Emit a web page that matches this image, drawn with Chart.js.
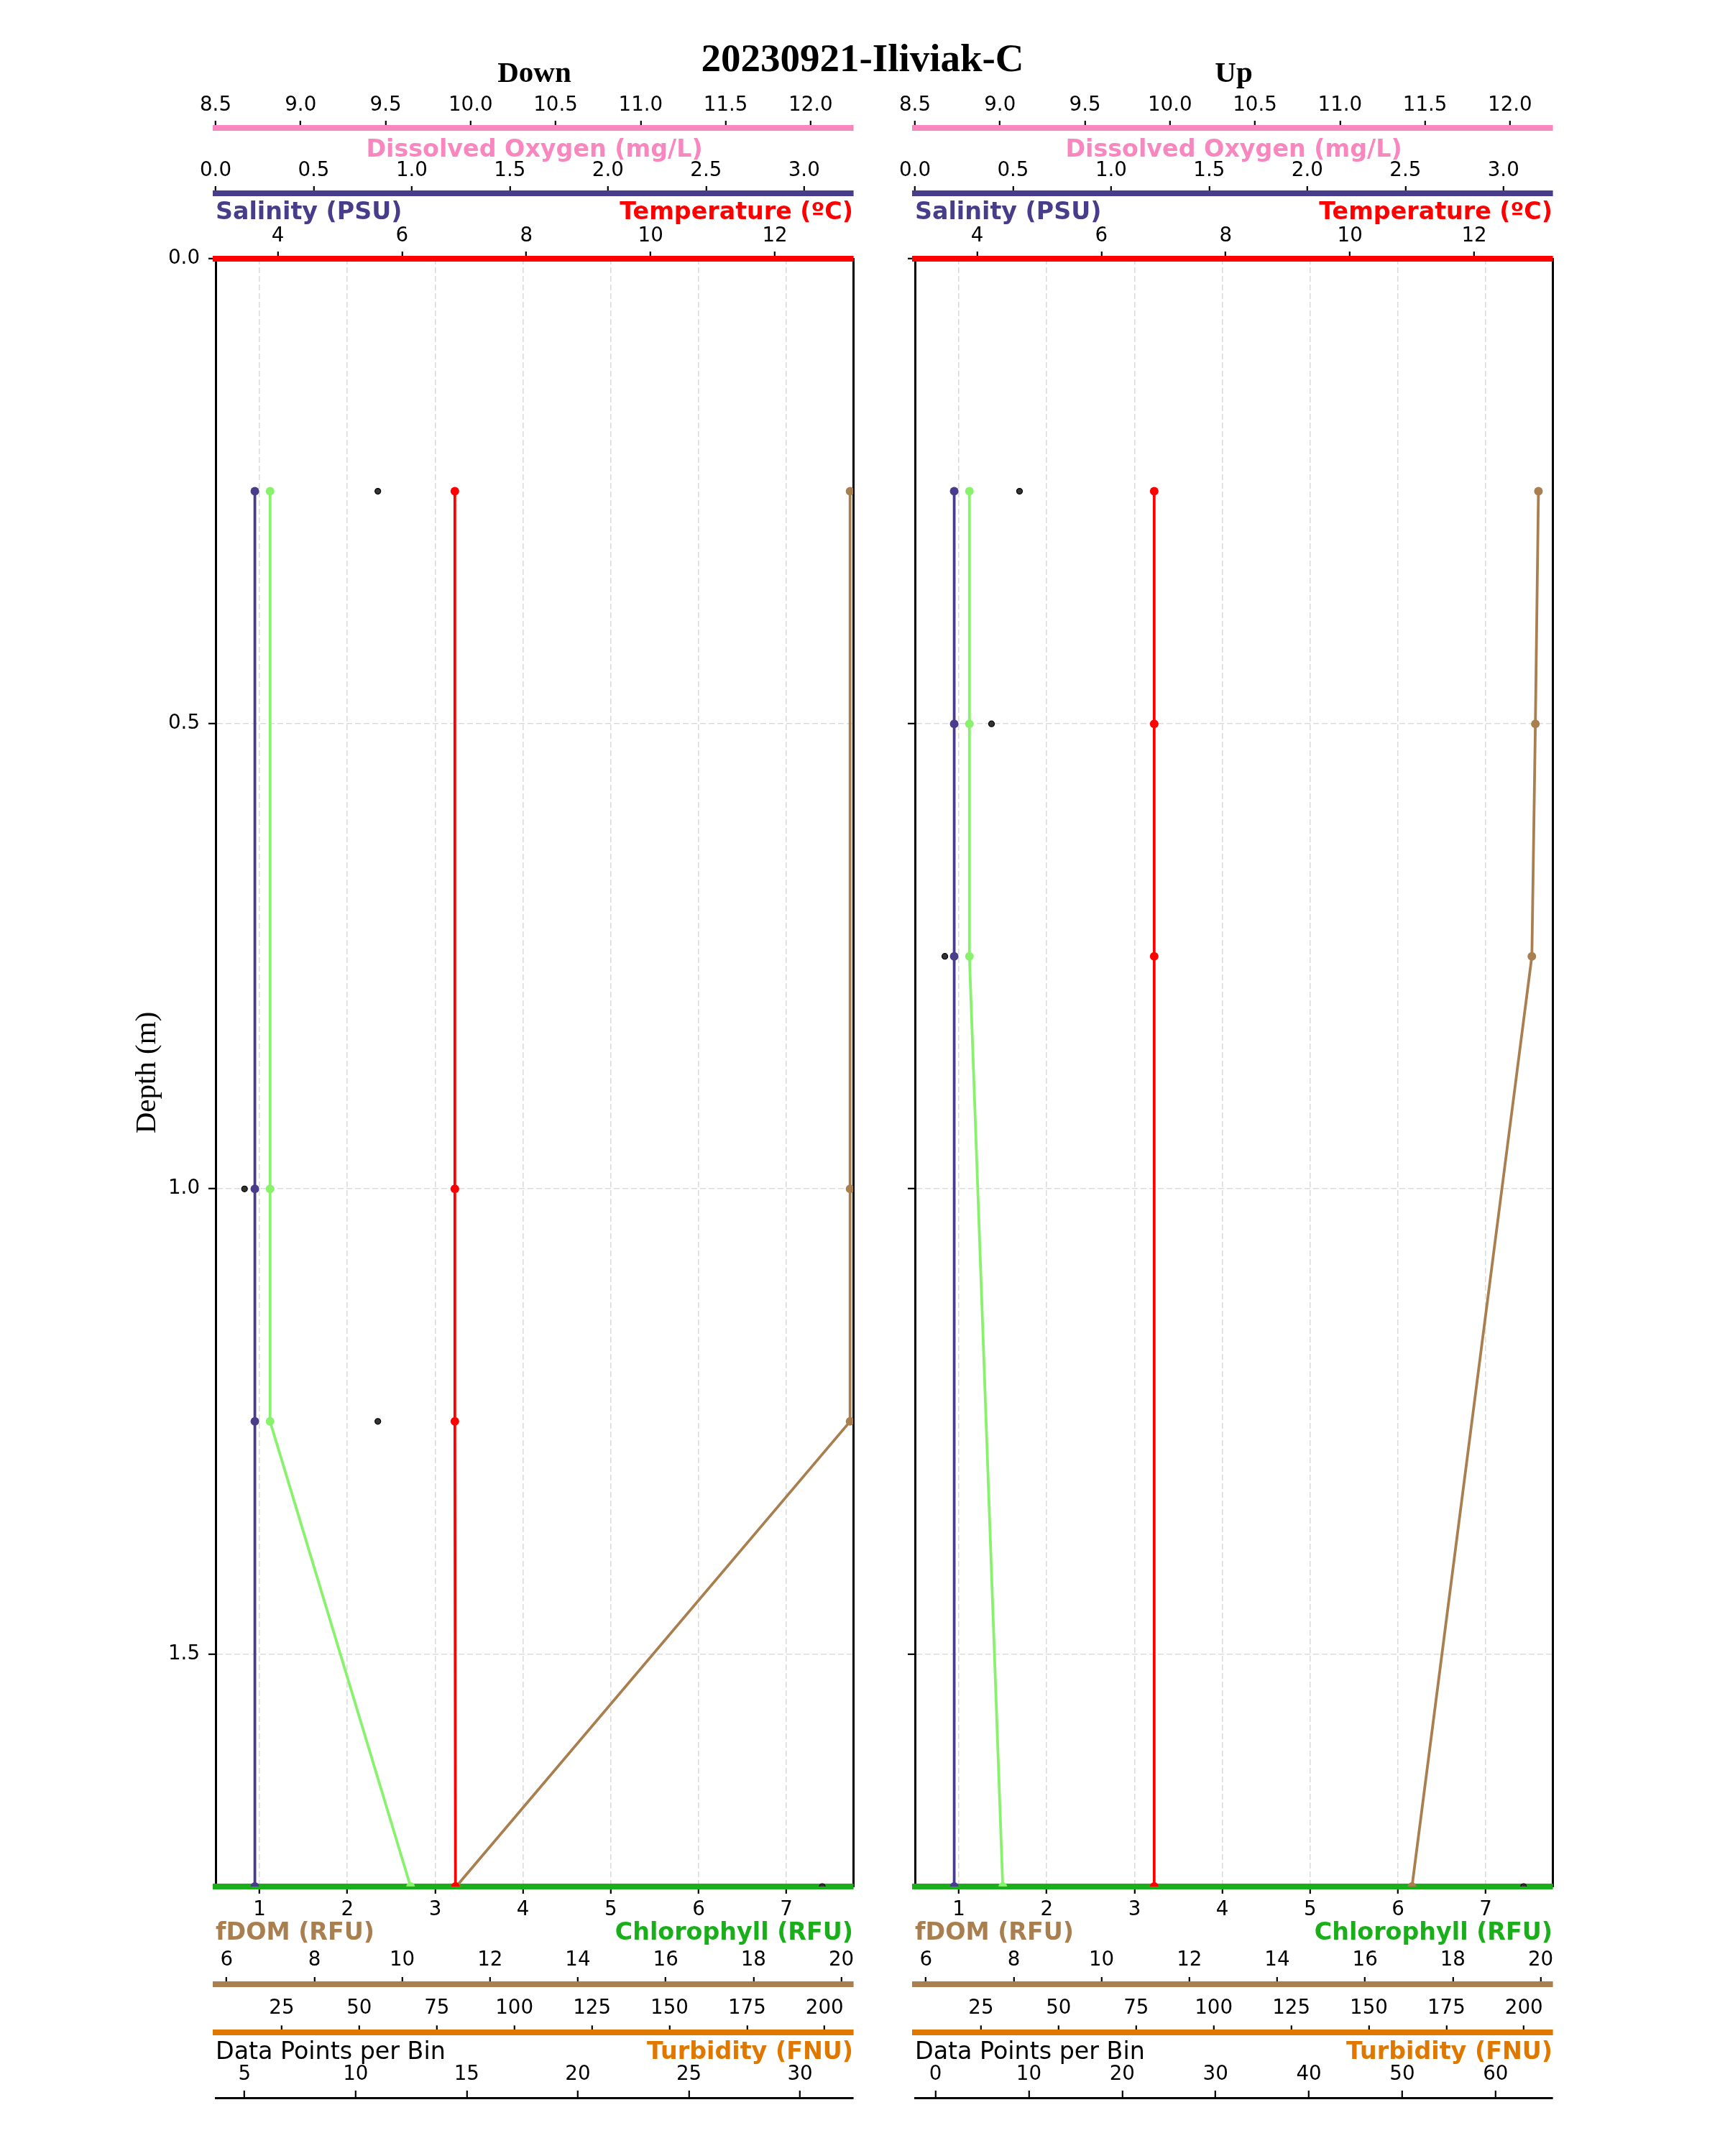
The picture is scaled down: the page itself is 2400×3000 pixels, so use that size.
<!DOCTYPE html>
<html>
<head>
<meta charset="utf-8">
<script src="https://cdn.jsdelivr.net/npm/chart.js@4.4.1/dist/chart.umd.min.js"></script>
<style>
  body { margin: 0; background: #fff; }
  #page { position: relative; width: 2400px; height: 3000px; }
  #suptitle { position: absolute; left: 0; top: 53px; width: 2400px; text-align: center;
              font: bold 55px/55px 'Liberation Serif', serif; color: #000; }
  #down { position: absolute; left: 0; top: 0; }
  #up { position: absolute; left: 1230px; top: 0; }
</style>
</head>
<body>
<div id="page">
  <div id="suptitle">20230921-Iliviak-C</div>
  <canvas id="down" width="1230" height="3000"></canvas>
  <canvas id="up" width="1170" height="3000"></canvas>
</div>
<script>
// binned profile, down cast
const depthDown = [0.25, 1.0, 1.25, 1.75];
const salinityDown = [0.2, 0.2, 0.2, 0.2];
const temperatureDown = [6.85, 6.85, 6.85, 6.86];
const chlorophyllDown = [1.12, 1.12, 1.12, 2.72];
const fdomDown = [20.2, 20.2, 20.2, 11.23];
const binCountDown = [11, 5, 11, 31];

// binned profile, up cast
const depthUp = [0.25, 0.5, 0.75, 1.75];
const salinityUp = [0.2, 0.2, 0.2, 0.2];
const temperatureUp = [6.85, 6.85, 6.85, 6.85];
const chlorophyllUp = [1.12, 1.12, 1.12, 1.5];
const fdomUp = [19.95, 19.88, 19.8, 17.07];
const binCountUp = [9, 6, 1, 63];

// tick labels
const depthTicks = [0, 0.5, 1.0, 1.5];
const oxygenTicks = [8.5, 9.0, 9.5, 10.0, 10.5, 11.0, 11.5, 12.0];
const salinityTicks = [0, 0.5, 1.0, 1.5, 2.0, 2.5, 3.0];
const temperatureTicks = [4, 6, 8, 10, 12];
const chlorophyllTicks = [1, 2, 3, 4, 5, 6, 7];
const fdomTicks = [6, 8, 10, 12, 14, 16, 18, 20];
const turbidityTicks = [25, 50, 75, 100, 125, 150, 175, 200];
const binTicksDown = [5, 10, 15, 20, 25, 30];
const binTicksUp = [0, 10, 20, 30, 40, 50, 60];

const FONT = 'DejaVu Sans';
const SERIF = 'Liberation Serif';
const C_SAL = '#483d8b';
const C_OXY = '#f887c0';
const C_TEMP = '#ff0000';
const C_CHL = '#1aaf1a';
const C_CHL_LINE = '#88f26c';
const C_FDOM = '#a97f50';
const C_TURB = '#e07800';

Chart.defaults.color = '#000';
Chart.defaults.font.family = FONT;

const tickFont = { family: FONT, size: 27.7 };
const labelFont = { family: FONT, size: 33.3, weight: 'bold' };
const gridDash = [8, 4];

function xAxis(o) {
  return {
    type: 'linear',
    position: o.pos,
    min: o.min,
    max: o.max,
    afterBuildTicks: s => { s.ticks = o.ticks.map(v => ({ value: v })); },
    afterFit: s => { s.height = o.h; },
    ticks: {
      autoSkip: false, maxRotation: 0, font: tickFont, color: '#000',
      padding: o.pad, mirror: !!o.mirror,
      callback: v => v.toFixed(o.digits || 0)
    },
    grid: {
      display: true, drawOnChartArea: !!o.grid, color: '#dcdcdc', lineWidth: 1.6,
      drawTicks: true, tickLength: o.mirror ? -10 : 10, tickColor: '#000', tickWidth: 2.2
    },
    border: { display: true, color: o.color, width: o.bw || 8, dash: gridDash },
    title: o.title ? {
      display: true, text: o.title, color: o.tcolor || o.color, align: o.align,
      font: o.tfont || labelFont, padding: o.tpad
    } : { display: false }
  };
}

function line(label, depth, values, axis, color) {
  return {
    label: label,
    data: depth.map((d, i) => ({ x: values[i], y: d })),
    xAxisID: axis, yAxisID: 'y',
    borderColor: color, backgroundColor: color,
    borderWidth: 3.8, pointRadius: 6, pointBorderWidth: 0,
    pointBackgroundColor: color, tension: 0, clip: 0
  };
}

function makePanel(id, p) {
  return new Chart(document.getElementById(id), {
    type: 'line',
    data: {
      datasets: [
        line('Salinity (PSU)', p.depth, p.sal, 'sal', C_SAL),
        line('Chlorophyll (RFU)', p.depth, p.chl, 'chl', C_CHL_LINE),
        line('Temperature (ºC)', p.depth, p.temp, 'temp', C_TEMP),
        line('fDOM (RFU)', p.depth, p.fdom, 'fdom', C_FDOM),
        {
          label: 'Data Points per Bin',
          data: p.depth.map((d, i) => ({ x: p.bins[i], y: d })),
          xAxisID: 'dpb', yAxisID: 'y', showLine: false,
          pointRadius: 4, pointBorderWidth: 1.2, pointBorderColor: '#000',
          pointBackgroundColor: '#333', clip: 0
        }
      ]
    },
    options: {
      responsive: false,
      devicePixelRatio: 1,
      animation: false,
      events: [],
      indexAxis: 'y',
      layout: { padding: { left: 0, right: p.padRight, top: 0, bottom: 41 } },
      plugins: {
        legend: { display: false },
        tooltip: { enabled: false },
        title: {
          display: true, text: p.title, fullSize: false, color: '#000',
          font: { family: SERIF, size: 41, weight: 'bold' },
          padding: { top: 78.4, bottom: 0 }
        }
      },
      scales: {
        y: {
          type: 'linear', position: 'left', reverse: true, min: 0, max: 1.75,
          afterBuildTicks: s => { s.ticks = depthTicks.map(v => ({ value: v })); },
          afterFit: s => { s.width = p.yWidth; },
          ticks: { display: p.depthLabels, font: tickFont, color: '#000', padding: 12,
                   callback: v => v.toFixed(1) },
          grid: { color: '#dcdcdc', lineWidth: 1.6, tickLength: 10, tickColor: '#000', tickWidth: 2.2 },
          border: { display: true, color: '#000', width: 3, dash: gridDash },
          title: { display: p.depthLabels, text: 'Depth (m)', color: '#000',
                   font: { family: SERIF, size: 41 }, padding: { top: 180.4, bottom: 0 } }
        },
        yr: {
          type: 'linear', position: 'right', reverse: true, min: 0, max: 1.75,
          afterFit: s => { s.width = 0; },
          ticks: { display: false },
          grid: { display: true, drawOnChartArea: false, drawTicks: false },
          border: { display: true, color: '#000', width: 3 }
        },
        temp: xAxis({ pos: 'top', min: 3.0, max: 13.26, ticks: temperatureTicks, h: 91, pad: 5,
                      color: C_TEMP, title: 'Temperature (ºC)', align: 'end', tpad: { top: 7, bottom: 0 } }),
        sal: xAxis({ pos: 'top', min: 0, max: 3.25, ticks: salinityTicks, digits: 1, h: 91, pad: 5,
                     color: C_SAL, title: 'Salinity (PSU)', align: 'start', tpad: { top: 98, bottom: 0 } }),
        oxy: xAxis({ pos: 'top', min: 8.5, max: 12.25, ticks: oxygenTicks, digits: 1, h: 50.4, pad: 5,
                     color: C_OXY, title: 'Dissolved Oxygen (mg/L)', align: 'center', tpad: { top: 61.4, bottom: 0 } }),
        chl: xAxis({ pos: 'bottom', min: 0.5, max: 7.76, ticks: chlorophyllTicks, h: 136, pad: 6, grid: true,
                     color: C_CHL, title: 'Chlorophyll (RFU)', align: 'end', tpad: { top: 0, bottom: 50.5 } }),
        fdom: xAxis({ pos: 'bottom', min: 5.75, max: 20.27, ticks: fdomTicks, h: 67.3, pad: 16.5, mirror: true,
                      color: C_FDOM, title: 'fDOM (RFU)', align: 'start', tpad: { top: 0, bottom: 117.8 } }),
        turb: xAxis({ pos: 'bottom', min: 3.7, max: 209.2, ticks: turbidityTicks, h: 90.7, pad: 16.5, mirror: true,
                      color: C_TURB, title: 'Turbidity (FNU)', align: 'end', tpad: { top: 0, bottom: 43 } }),
        dpb: xAxis({ pos: 'bottom', min: p.binMin, max: p.binMax, ticks: p.binTicks, h: 40, pad: 16, mirror: true,
                     color: '#000', bw: 3, title: 'Data Points per Bin', align: 'start',
                     tfont: { family: FONT, size: 33.3 }, tpad: { top: 0, bottom: 83 } })
      }
    }
  });
}

makePanel('down', {
  title: 'Down', depth: depthDown, sal: salinityDown, temp: temperatureDown,
  chl: chlorophyllDown, fdom: fdomDown, bins: binCountDown,
  binMin: 3.7, binMax: 32.39, binTicks: binTicksDown,
  yWidth: 300, padRight: 43, depthLabels: true
});

makePanel('up', {
  title: 'Up', depth: depthUp, sal: salinityUp, temp: temperatureUp,
  chl: chlorophyllUp, fdom: fdomUp, bins: binCountUp,
  binMin: -2.2, binMax: 66.1, binTicks: binTicksUp,
  yWidth: 43, padRight: 240, depthLabels: false
});
</script>
</body>
</html>
